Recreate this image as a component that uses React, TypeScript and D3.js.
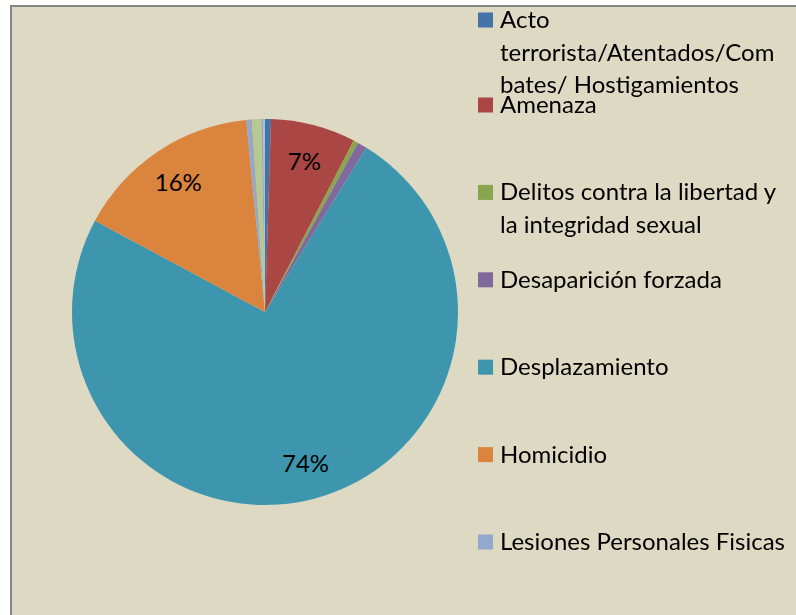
import React from "react";
import * as d3 from "d3";

const categories = [
  "Acto terrorista/Atentados/Combates/ Hostigamientos",
  "Amenaza",
  "Delitos contra la libertad y la integridad sexual",
  "Desaparición forzada",
  "Desplazamiento",
  "Homicidio",
  "Lesiones Personales Fisicas",
  "Lesiones Personales Psicologicas",
  "Minas antipersonal/Munición sin explotar/Artefacto explosivo",
  "Perdida de Bienes Muebles o Inmuebles",
  "Secuestro",
];

// legend line wrapping as in the reference
const legendLines = [
  ["Acto", "terrorista/Atentados/Com", "bates/ Hostigamientos"],
  ["Amenaza"],
  ["Delitos contra la libertad y", "la integridad sexual"],
  ["Desaparición forzada"],
  ["Desplazamiento"],
  ["Homicidio"],
  ["Lesiones Personales Fisicas"],
  ["Lesiones Personales Psicologicas"],
  ["Minas antipersonal/Munición sin", "explotar/Artefacto explosivo"],
  ["Perdida de Bienes Muebles o", "Inmuebles"],
  ["Secuestro"],
];

const values = [0.5, 7.1, 0.4, 0.8, 74.0, 15.6, 0.4, 0.05, 0.8, 0.15, 0.15];

const colors = [
  "#4572A7",
  "#AA4643",
  "#89A54E",
  "#80699B",
  "#3D96AE",
  "#DB843D",
  "#92A8CD",
  "#A47D7C",
  "#B5CA92",
  "#A99BBD",
  "#9CC6D3",
];

const W = 796;
const H = 615;
const FONT = "Lato, 'Noto Sans', sans-serif";

export default function App() {
  const cx = 265;
  const cy = 312;
  const r = 193;
  const total = d3.sum(values);
  const data = categories.map((c, i) => ({ name: c, value: values[i], i }));
  const pie = d3.pie<any>().sort(null).value((d) => d.value);
  const arcs = pie(data);
  const arc = d3.arc<any>().innerRadius(0).outerRadius(r);
  const labelArc = d3.arc<any>().innerRadius(r * 0.81).outerRadius(r * 0.81);

  const legendY = d3.scaleLinear().domain([1, 6]).range([113, 550]);
  const lineH = 32.5;

  return (
    <div style={{ position: "fixed", left: 0, top: 0 }}>
      <svg width={W} height={H} style={{ display: "block" }}>
        <rect x={0} y={0} width={W} height={H} fill="#ffffff" />
        <rect x={11} y={6} width={W + 20} height={H + 20} fill="#DDD9C3" stroke="#868686" strokeWidth={2} />
        <g transform={`translate(${cx},${cy})`}>
          {arcs.map((a) => (
            <path key={a.data.name} d={arc(a) as string} fill={colors[a.data.i]} />
          ))}
          {arcs
            .filter((a) => a.data.value / total >= 0.05)
            .map((a) => {
              const [x, y] = labelArc.centroid(a);
              return (
                <text
                  key={"l" + a.data.name}
                  x={x}
                  y={y}
                  textAnchor="middle"
                  dominantBaseline="central"
                  fontFamily={FONT}
                  fontSize={24}
                  fill="#000"
                >
                  {d3.format(".0%")(a.data.value / total)}
                </text>
              );
            })}
        </g>
        <g>
          {legendLines.map((lines, i) => {
            const base = i === 0 ? 28 : legendY(i);
            if (base > H - 20) return null; // clipped by the chart area in the reference
            return (
              <g key={"lg" + i}>
                <rect x={478} y={base - 15.5} width={15} height={15} fill={colors[i]} />
                {lines.map((ln, j) => (
                  <text
                    key={j}
                    x={500}
                    y={base + j * lineH}
                    fontFamily={FONT}
                    fontSize={24}
                    fill="#000"
                  >
                    {ln}
                  </text>
                ))}
              </g>
            );
          })}
        </g>
      </svg>
    </div>
  );
}
